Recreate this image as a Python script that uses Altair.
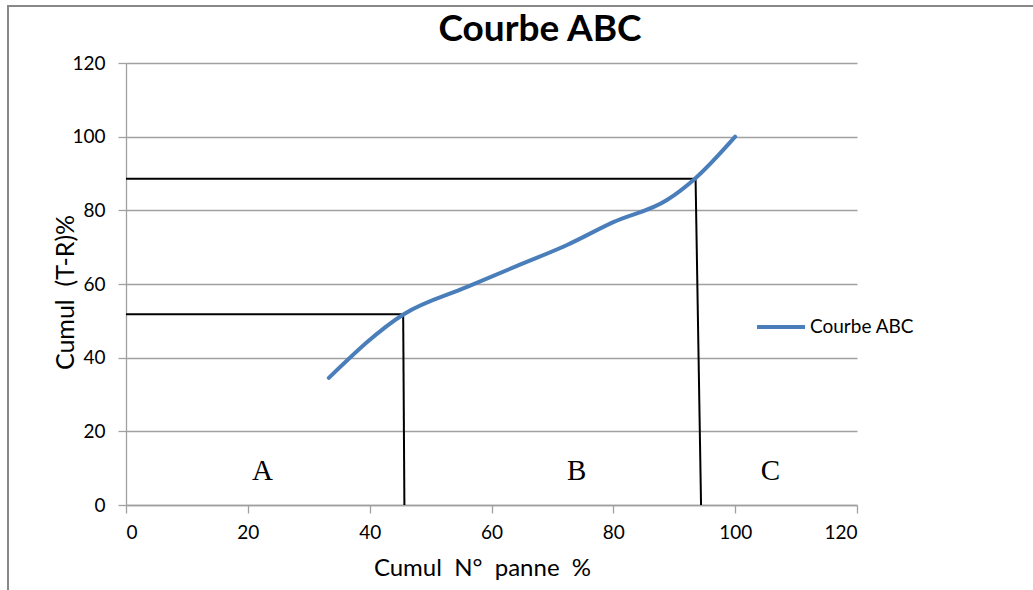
import altair as alt
import pandas as pd

# Curve data
cum_panne = [33.3, 45.6, 56.0, 64.0, 72.4, 80.0, 88.8, 93.4, 100.0]
cum_tr = [34.5, 51.8, 59.2, 64.8, 70.6, 76.8, 82.8, 88.6, 100.0]
serie = "Courbe ABC"

# Reference segments (hand drawn)
seg_x1 = [0.0, 45.5, 0.0, 93.5]
seg_y1 = [51.8, 51.8, 88.6, 88.6]
seg_x2 = [45.5, 45.7, 93.5, 94.4]
seg_y2 = [51.8, 0.0, 88.6, 0.0]

# Zone labels
zones = ["A", "B", "C"]
zone_x = [22.4, 74.0, 105.8]
zone_y = [6.8, 6.8, 6.8]

title_text = ["Courbe ABC"]

curve_df = pd.DataFrame({"x": cum_panne, "y": cum_tr, "serie": [serie] * len(cum_panne)})
seg_df = pd.DataFrame({"x1": seg_x1, "y1": seg_y1, "x2": seg_x2, "y2": seg_y2})
zone_df = pd.DataFrame({"label": zones, "x": zone_x, "y": zone_y})
title_df = pd.DataFrame({"t": title_text})

xscale = alt.Scale(domain=[0, 120], nice=False)
yscale = alt.Scale(domain=[0, 120], nice=False)

NB = "\u00a0"

base_x = alt.X("x:Q", scale=xscale,
               axis=alt.Axis(values=[0, 20, 40, 60, 80, 100, 120], grid=False,
                             title=f"Cumul{NB}{NB}N°{NB}{NB}panne{NB}{NB}%",
                             titlePadding=14, titleX=356, titleAlign="center"))
base_y = alt.Y("y:Q", scale=yscale,
               axis=alt.Axis(values=[0, 20, 40, 60, 80, 100, 120], grid=True,
                             title=f"Cumul{NB}{NB}(T-R)%", titleFontSize=25,
                             titleX=-53, titleY=229, titleAlign="center", titleAngle=270,
                             titleBaseline="alphabetic"))

curve = alt.Chart(curve_df).mark_line(interpolate="monotone", strokeWidth=4, strokeCap="round").encode(
    x=base_x,
    y=base_y,
    color=alt.Color("serie:N", scale=alt.Scale(range=["#4a7ebb"]),
                    legend=alt.Legend(title=None, orient="none", legendX=629, legendY=238,
                                      symbolType="stroke", symbolSize=2300, symbolStrokeWidth=4,
                                      labelFont="Lato", labelFontSize=19, labelColor="#000000",
                                      labelOffset=3)),
)

segs = alt.Chart(seg_df).mark_rule(color="#000000", strokeWidth=2).encode(
    x="x1:Q", y="y1:Q", x2="x2:Q", y2="y2:Q"
)

letters = alt.Chart(zone_df).mark_text(font="Liberation Serif", fontSize=29, baseline="alphabetic",
                                       color="#000000").encode(
    x="x:Q", y="y:Q", text="label:N"
)

title = alt.Chart(title_df).mark_text(font="Lato", fontSize=37, fontWeight="bold", baseline="alphabetic",
                                      align="center", color="#000000").encode(
    x=alt.value(414), y=alt.value(-22), text="t:N"
)

border = alt.Chart(pd.DataFrame({"k": [0]})).mark_rect(fill=None, stroke="#888888", strokeWidth=2).encode(
    x=alt.value(-118), x2=alt.value(915), y=alt.value(-57), y2=alt.value(540)
)

chart = alt.layer(border, segs, curve, letters, title).properties(
    width=731,
    height=442,
    padding={"left": 126, "top": 63, "right": 176, "bottom": 85},
    autosize=alt.AutoSizeParams(type="none"),
).configure_view(stroke=None).configure_axis(
    gridColor="#a0a0a0", gridWidth=1.3, domainColor="#a0a0a0", domainWidth=1.3,
    tickColor="#a0a0a0", tickSize=8, tickWidth=1.3,
    labelFont="Lato", labelFontSize=19, labelColor="#000000",
    titleFont="Lato", titleFontSize=24, titleFontWeight="normal", titleColor="#000000",
).configure_axisY(labelPadding=13).configure_axisX(labelPadding=10)

chart.save("out.html", embed_options={"renderer": "svg", "actions": False})
